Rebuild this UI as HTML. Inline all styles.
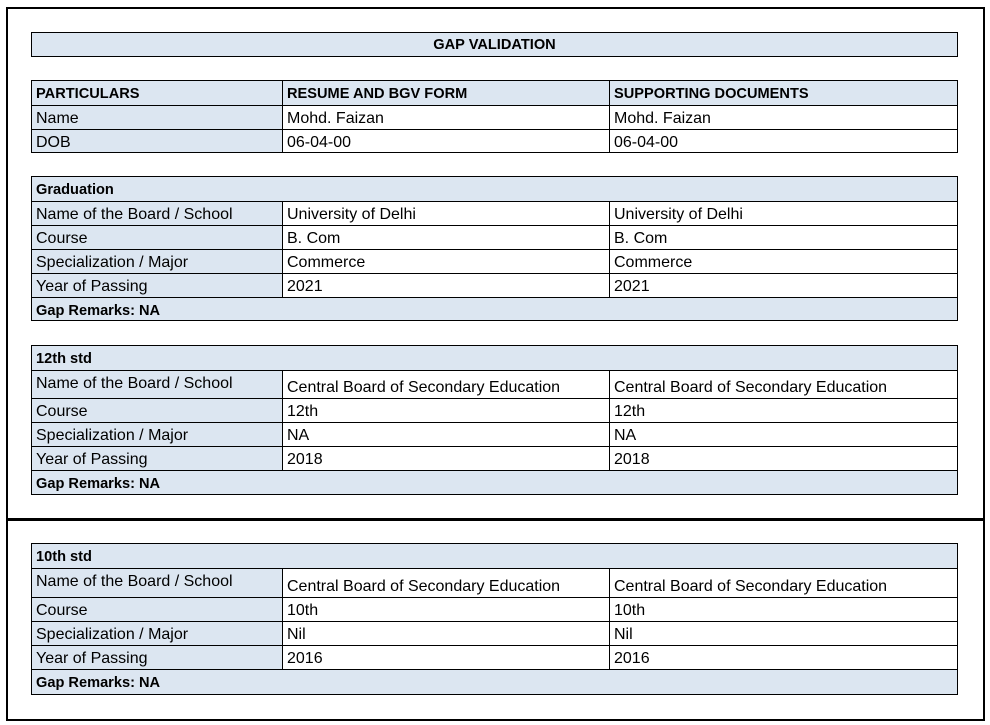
<!DOCTYPE html>
<html><head><meta charset="utf-8"><style>
body{margin:0;width:990px;height:725px;background:#fff;position:relative;font-family:"Liberation Sans",Arial,sans-serif;font-size:16px;color:#000;overflow:hidden}
.frame{position:absolute;border:2px solid #000;box-sizing:border-box}
.t{position:absolute;left:31px;width:927px;border:1px solid #000;box-sizing:border-box;background:#fff}
.r{display:flex;border-top:1px solid #000;box-sizing:border-box}
.r:first-child{border-top:none}
.c{box-sizing:border-box;padding:4px 0 0 4px;white-space:nowrap;line-height:18px;overflow:hidden}
.c1{width:251px;background:#dce6f1;border-right:1px solid #000}
.c2{width:327px;border-right:1px solid #000}
.c3{flex:1}
.full{flex:1;background:#dce6f1;font-weight:bold;font-size:14.6px}
.hd .c{background:#dce6f1;font-weight:bold;font-size:14.6px}
</style></head><body>
<div class="frame" style="left:6px;top:7px;width:979px;height:514px"></div>
<div class="frame" style="left:6px;top:518px;width:979px;height:203px"></div>

<div class="t" style="top:32px;height:25px;background:#dce6f1;text-align:center;font-weight:bold;font-size:14.6px;line-height:24px">GAP VALIDATION</div>

<div class="t" style="top:80px">
<div class="r hd" style="height:24px"><div class="c c1">PARTICULARS</div><div class="c c2">RESUME AND BGV FORM</div><div class="c c3">SUPPORTING DOCUMENTS</div></div>
<div class="r" style="height:24px"><div class="c c1">Name</div><div class="c c2">Mohd. Faizan</div><div class="c c3">Mohd. Faizan</div></div>
<div class="r" style="height:23px"><div class="c c1">DOB</div><div class="c c2">06-04-00</div><div class="c c3">06-04-00</div></div>
</div>

<div class="t" style="top:176px">
<div class="r" style="height:24px"><div class="c full">Graduation</div></div>
<div class="r" style="height:24px"><div class="c c1">Name of the Board / School</div><div class="c c2">University of Delhi</div><div class="c c3">University of Delhi</div></div>
<div class="r" style="height:24px"><div class="c c1">Course</div><div class="c c2">B. Com</div><div class="c c3">B. Com</div></div>
<div class="r" style="height:24px"><div class="c c1">Specialization / Major</div><div class="c c2">Commerce</div><div class="c c3">Commerce</div></div>
<div class="r" style="height:24px"><div class="c c1">Year of Passing</div><div class="c c2">2021</div><div class="c c3">2021</div></div>
<div class="r" style="height:23px"><div class="c full">Gap Remarks: NA</div></div>
</div>

<div class="t" style="top:345px">
<div class="r" style="height:24px"><div class="c full">12th std</div></div>
<div class="r" style="height:28px"><div class="c c1">Name of the Board / School</div><div class="c c2" style="padding-top:8px">Central Board of Secondary Education</div><div class="c c3" style="padding-top:8px">Central Board of Secondary Education</div></div>
<div class="r" style="height:24px"><div class="c c1">Course</div><div class="c c2">12th</div><div class="c c3">12th</div></div>
<div class="r" style="height:24px"><div class="c c1">Specialization / Major</div><div class="c c2">NA</div><div class="c c3">NA</div></div>
<div class="r" style="height:24px"><div class="c c1">Year of Passing</div><div class="c c2">2018</div><div class="c c3">2018</div></div>
<div class="r" style="height:24px"><div class="c full">Gap Remarks: NA</div></div>
</div>

<div class="t" style="top:543px">
<div class="r" style="height:24px"><div class="c full">10th std</div></div>
<div class="r" style="height:29px"><div class="c c1">Name of the Board / School</div><div class="c c2" style="padding-top:9px">Central Board of Secondary Education</div><div class="c c3" style="padding-top:9px">Central Board of Secondary Education</div></div>
<div class="r" style="height:24px"><div class="c c1">Course</div><div class="c c2">10th</div><div class="c c3">10th</div></div>
<div class="r" style="height:24px"><div class="c c1">Specialization / Major</div><div class="c c2">Nil</div><div class="c c3">Nil</div></div>
<div class="r" style="height:24px"><div class="c c1">Year of Passing</div><div class="c c2">2016</div><div class="c c3">2016</div></div>
<div class="r" style="height:25px"><div class="c full">Gap Remarks: NA</div></div>
</div>
</body></html>
